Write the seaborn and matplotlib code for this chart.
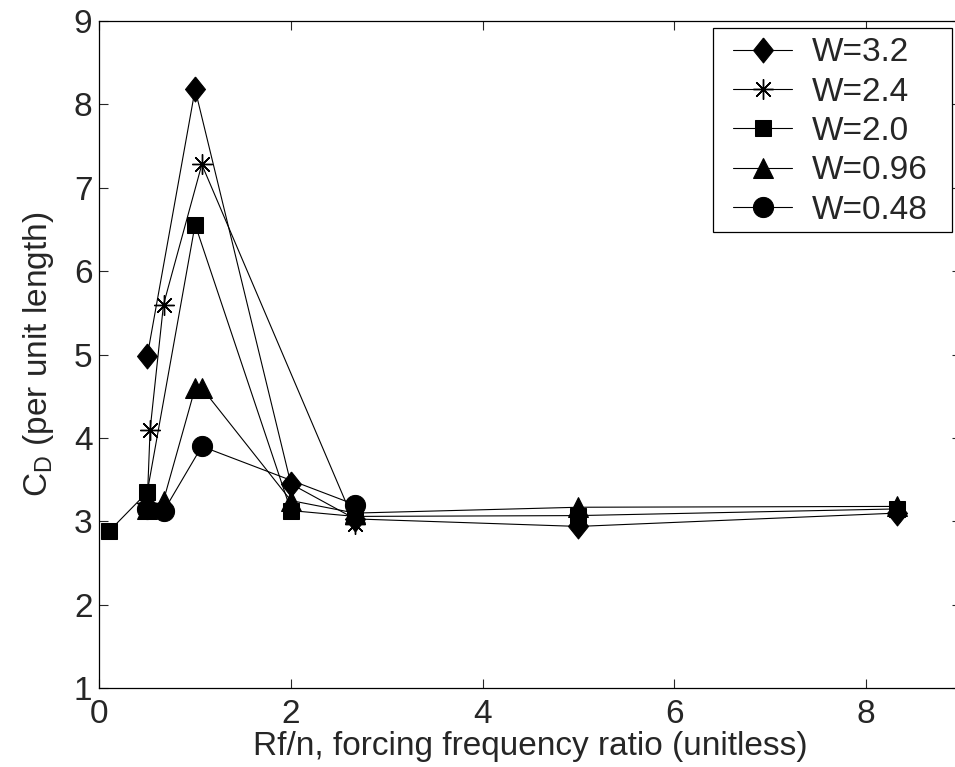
import matplotlib
matplotlib.use("Agg")
import matplotlib.pyplot as plt
from matplotlib.patches import Rectangle
import seaborn as sns
import pandas as pd

# Drag coefficient versus forcing frequency ratio, one series per W
labels = ["W=3.2", "W=2.4", "W=2.0", "W=0.96", "W=0.48"]

x_w32 = [0.5, 1.0, 2.0, 2.67, 5.0, 8.33]
cd_w32 = [4.98, 8.18, 3.45, 3.03, 2.94, 3.10]

x_w24 = [0.5, 0.53, 0.67, 1.07, 2.67]
cd_w24 = [3.22, 4.10, 5.60, 7.28, 2.97]

x_w20 = [0.1, 0.5, 1.0, 2.0, 2.67, 5.0, 8.33]
cd_w20 = [2.88, 3.35, 6.56, 3.13, 3.06, 3.07, 3.15]

x_w096 = [0.5, 0.67, 1.0, 1.07, 2.0, 2.67, 5.0, 8.33]
cd_w096 = [3.15, 3.25, 4.60, 4.60, 3.25, 3.10, 3.17, 3.18]

x_w048 = [0.5, 0.67, 1.07, 2.67]
cd_w048 = [3.15, 3.12, 3.90, 3.20]

xs = [x_w32, x_w24, x_w20, x_w096, x_w048]
ys = [cd_w32, cd_w24, cd_w20, cd_w096, cd_w048]

sns.set_style("ticks")
plt.rcParams["font.family"] = ["Liberation Sans", "DejaVu Sans"]
plt.rcParams["mathtext.fontset"] = "custom"
plt.rcParams["mathtext.rm"] = "Liberation Sans"
plt.rcParams["mathtext.it"] = "Liberation Sans:italic"

fig = plt.figure(figsize=(9.55, 7.67), dpi=100)
ax = fig.add_axes([0.104, 0.1027, 0.9028, 0.8699])

# slightly tall diamond
diamond = [(0, 1), (0.8, 0), (0, -1), (-0.8, 0), (0, 1)]

styles = [
    dict(marker=diamond, markersize=18, zorder=2.5),
    dict(marker=(8, 2, 0), markersize=14.5, markeredgewidth=1.0, zorder=2.4),
    dict(marker="s", markersize=11, zorder=2.2),
    dict(marker="^", markersize=14.5, zorder=2.1),
    dict(marker="o", markersize=14.5, zorder=2.3),
]

for lab, x, y, st in zip(labels, xs, ys, styles):
    df = pd.DataFrame({"x": x, "cd": y})
    sns.lineplot(data=df, x="x", y="cd", ax=ax, color="black", linewidth=0.8,
                 estimator=None, sort=False, label=lab,
                 markerfacecolor="black", markeredgecolor="black", **st)

ax.set_xlim(0, 9)
ax.set_ylim(1, 9)
ax.set_xticks([0, 2, 4, 6, 8])
ax.set_yticks(range(1, 10))
ax.tick_params(direction="in", length=6.5, width=0.8, labelsize=24,
               top=True, right=True)
ax.tick_params(axis="x", pad=8)
ax.tick_params(axis="y", pad=5)
for s in ax.spines.values():
    s.set_visible(True)
    s.set_linewidth(0.9)
    s.set_color("black")

ax.set_xlabel("Rf/n, forcing frequency ratio (unitless)", fontsize=24, labelpad=0.5)
ax.set_ylabel(r"C$_\mathrm{D}$ (per unit length)", fontsize=24, labelpad=13)

# legend box
frame = Rectangle((0.7466, 0.6975), 0.2503, 0.266, transform=fig.transFigure,
                  facecolor="white", edgecolor="black", linewidth=0.9,
                  zorder=4, clip_on=False)
ax.add_patch(frame)

handles, labs = ax.get_legend_handles_labels()
leg = ax.legend(handles, labs, loc="upper left", bbox_to_anchor=(0.735, 0.9757),
                fontsize=24, frameon=False, handlelength=1.77,
                borderaxespad=0, borderpad=0, labelspacing=0.25,
                handletextpad=0.6)
leg.set_zorder(5)

fig.savefig("out.png", dpi=100)
